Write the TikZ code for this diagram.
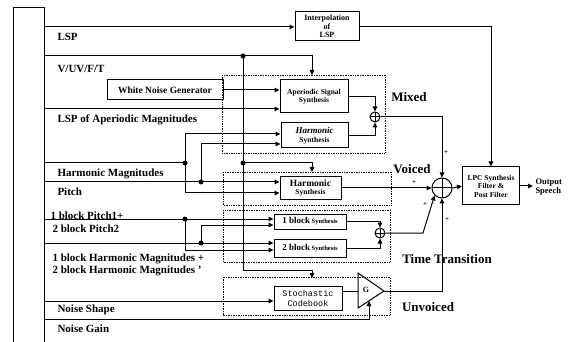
\documentclass[tikz,border=0pt]{standalone}
\usepackage{fontspec}
\setmainfont{Liberation Serif}
\setmonofont{Liberation Mono}
\usetikzlibrary{arrows.meta}

\tikzset{
  blk/.style={draw, inner sep=0pt, align=center, font=\bfseries\fontsize{7.5}{8.5}\selectfont},
  grp/.style={draw, densely dotted, line width=0.7pt},
  lab/.style={anchor=west, inner sep=0pt, font=\bfseries\fontsize{11}{11}\selectfont},
  tag/.style={inner sep=0pt, font=\bfseries\fontsize{13}{13}\selectfont},
  arr/.style={-{Triangle[length=5pt,width=4.5pt]}},
  dot/.style={circle, fill, inner sep=0pt, minimum size=5pt},
  sum/.style={circle, draw, inner sep=0pt,
    path picture={\draw (path picture bounding box.north) -- (path picture bounding box.south)
      (path picture bounding box.west) -- (path picture bounding box.east);}},
  plus/.style={inner sep=0pt, font=\bfseries\fontsize{7}{7}\selectfont},
}

\begin{document}
\begin{tikzpicture}[x=1pt,y=-1pt,line width=1pt]
\useasboundingbox (0,0) rectangle (576,342);
\draw (13,342) -- (13,8) -- (44,8) -- (44,342);

\node[blk, font=\bfseries\fontsize{8}{8.5}\selectfont, minimum width=64, minimum height=29] (interp) at (327,26.5) {Interpolation\\of\\LSP};
\node[blk, font=\bfseries\fontsize{9.5}{10}\selectfont, minimum width=116, minimum height=20] (wng) at (165,90) {White Noise Generator};
\node[blk, minimum width=68, minimum height=33] (aper) at (314,96.5) {Aperiodic Signal\\Synthesis};
\node[blk, minimum width=67, minimum height=25] (harmM) at (314.5,135.5) {{\itshape\fontsize{9}{9}\selectfont Harmonic}\\Synthesis};
\node[blk, minimum width=61, minimum height=23] (harmV) at (310.5,188) {{\fontsize{9.5}{9.5}\selectfont Harmonic}\\Synthesis};
\node[blk, font=\bfseries\fontsize{6.5}{7}\selectfont, minimum width=72, minimum height=15] (blk1) at (310,221.5) {{\fontsize{9}{9}\selectfont 1 block} Synthesis};
\node[blk, font=\bfseries\fontsize{6.5}{7}\selectfont, minimum width=72, minimum height=18] (blk2) at (310,248) {{\fontsize{9}{9}\selectfont 2 block} Synthesis};
\node[blk, font=\ttfamily\fontsize{8.5}{10}\selectfont, minimum width=68, minimum height=24] (stoch) at (308,298) {Stochastic\\Codebook};
\node[blk, minimum width=57, minimum height=38] (lpc) at (491,186) {LPC Synthesis\\Filter \&\\Post Filter};

\node[sum, minimum size=10] (addM) at (375,117) {};
\node[sum, minimum size=10] (addT) at (380,233) {};
\node[sum, minimum size=20] (addV) at (442,188) {};

\coordinate (gin) at (358,291);
\coordinate (gout) at (384,291);
\coordinate (glo) at (369,301);
\draw (358,273) -- (gout) -- (358,308) -- cycle;
\node[font=\bfseries\fontsize{8}{8}\selectfont] (g) at (366,290) {G};

\draw[grp] (222,75) rectangle (385,153);
\draw[grp] (223,172) rectangle (391,205);
\draw[grp] (223,210) rectangle (390,262);
\draw[grp] (223,277) rectangle (390,315);

\coordinate (lsp) at (44,27);
\coordinate (vuv) at (44,56);
\coordinate (lspa) at (44,109);
\coordinate (hmag) at (44,163);
\coordinate (pitch) at (44,182);
\coordinate (p1) at (44,219);
\coordinate (p2) at (44,243);
\coordinate (nshape) at (44,301);
\coordinate (ngain) at (44,319);
\coordinate (vj) at (243,56);
\coordinate (vmid) at (243,163);
\coordinate (vbot) at (243,270);
\coordinate (hj) at (185,163);
\coordinate (pj) at (201,182);
\coordinate (p1j) at (185,219);
\coordinate (p2j) at (201,243);
\coordinate (mixtop) at (312,75);
\coordinate (voitop) at (312,172);
\coordinate (unvtop) at (312,278);
\coordinate (tbend) at (423,233);
\coordinate (out) at (533,186);

\draw[arr] (lsp) -- (interp.west |- lsp);
\draw[arr] (interp.east) -| (lpc.north);
\draw[arr] (vuv) -| (mixtop);
\draw[arr] (vj) -- (vbot) -| (unvtop);
\draw[arr] (vmid) -| (voitop);
\draw[arr] (wng.east) -- (aper.west |- wng.east);
\draw[arr] (lspa) -- (aper.west |- lspa);
\draw (hmag) -- (hj);
\draw[arr] (hj) |- (harmM.west |- 0,134);
\draw[arr] (hj) |- (harmV.west |- 0,193);
\draw[arr] (pitch) -- (harmV.west |- pitch);
\draw[arr] (pj) |- (harmM.west |- 0,144);
\draw[arr] (p1) -- (blk1.west |- p1);
\draw[arr] (p1j) |- (blk2.west |- 0,250);
\draw[arr] (p2) -- (blk2.west |- p2);
\draw[arr] (p2j) |- (blk1.west |- 0,225);
\draw[arr] (nshape) -- (stoch.west |- nshape);
\draw[arr] (ngain) -| (glo);
\draw (stoch.east |- gin) -- (gin);

\draw[arr] (aper.east) -| (addM.north);
\draw[arr] (harmM.east) -| (addM.south);
\draw[arr] (addM.east) -| (addV.north);
\draw[arr] (harmV.east) -- (addV.west);
\draw[arr] (blk1.east) -| (addT.north);
\draw[arr] (blk2.east) -| (addT.south);
\draw[arr] (addT.east) -- (tbend) -- (addV.south west);
\draw[arr] (gout) -| (addV.south);
\draw[arr] (addV.east) -- (lpc.west);
\draw[arr] (lpc.east) -- (out);
\node[anchor=west, align=left, inner sep=0pt, font=\bfseries\fontsize{8.5}{9}\selectfont] (speech) at (535,187) {Output\\Speech};

\foreach \p in {vj,vmid,hj,pj,p1j,p2j}
  \node[dot] at (\p) {};

\node[lab] (tlsp) at (57,37) {LSP};
\node[lab] (tvuv) at (57,69) {V/UV/F/T};
\node[lab] (tlspa) at (57,120) {LSP of Aperiodic Magnitudes};
\node[lab] (thmag) at (57,174) {Harmonic Magnitudes};
\node[lab] (tpitch) at (57,192) {Pitch};
\node[lab] (tp1) at (50,216) {1 block Pitch1+};
\node[lab] (tp2) at (52,229) {2 block Pitch2};
\node[lab] (th1) at (52,259) {1 block Harmonic Magnitudes +};
\node[lab] (th2) at (52,271) {2 block Harmonic Magnitudes ’};
\node[lab] (tshape) at (57,310) {Noise Shape};
\node[lab] (tgain) at (57,329) {Noise Gain};

\node[tag] (tmix) at (409,97) {Mixed};
\node[tag] (tvoi) at (412,169) {Voiced};
\node[tag] (ttt) at (447,259) {Time Transition};
\node[tag] (tunv) at (428,307) {Unvoiced};

\node[plus] (pl1) at (414,183) {+};
\node[plus] (pl2) at (446,153) {+};
\node[plus] (pl3) at (425,205) {+};
\node[plus] (pl4) at (447,220) {+};
\end{tikzpicture}
\end{document}
